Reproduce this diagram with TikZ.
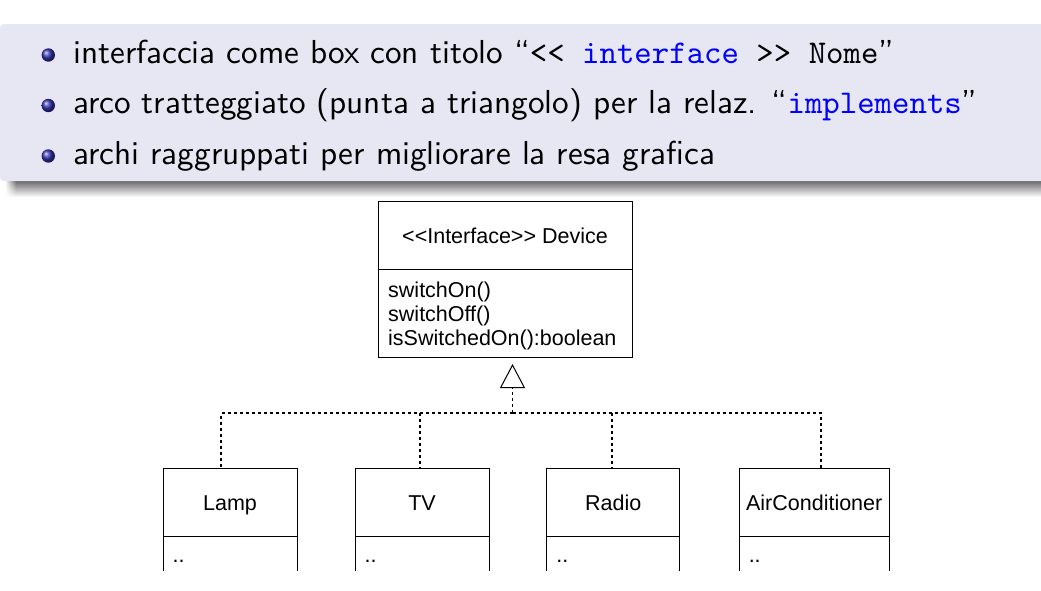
\documentclass[tikz,border=0pt]{standalone}
\usepackage{fontspec}
\usetikzlibrary{arrows.meta,calc,fadings}
\newfontfamily\arialf{Liberation Sans}
\newfontfamily\lmssf{lmsans10-regular.otf}
\newfontfamily\lmttf{lmmono10-regular.otf}
\definecolor{blockbg}{RGB}{230,231,243}
\definecolor{ballc}{rgb}{0.2,0.2,0.7}
\tikzfading[name=shadowleft, left color=transparent!100, right color=transparent!0]
\begin{document}
\begin{tikzpicture}[x=1pt,y=-1pt,
  bullettext/.style={anchor=base west,inner sep=0pt,font=\lmssf\fontsize{33.2}{36}\selectfont},
  umlbox/.style={draw,line width=1pt,inner sep=0pt,outer sep=0pt},
  umlfont/.style={inner sep=0pt,font=\arialf\fontsize{21.5}{24}\selectfont},
  umltext/.style={umlfont,anchor=base west},
  umllabel/.style={umlfont,anchor=base},
  dep/.style={line width=1.15pt,dash pattern=on 3pt off 3pt},
  ballbullet/.style={ball color=ballc}
]
\useasboundingbox (0,0) rectangle (1041,590);
\fill[white] (0,0) rectangle (1041,590);
% shadow
\shade[top color=black!58,bottom color=white] (16,181) rectangle (1060,197);
\shade[top color=black!58,bottom color=white,path fading=shadowleft,fit fading=true] (5,181) rectangle (16,197);
% block
\fill[blockbg,rounded corners=4pt] (0,24) rectangle (1060,181);
% bullets
\shade[ballbullet] (48.3,55) circle[radius=6.7];
\shade[ballbullet] (48.3,105.5) circle[radius=6.7];
\shade[ballbullet] (48.3,156) circle[radius=6.7];
\node[bullettext] (l1) at (73,63) {interfaccia come box con titolo “{\lmttf<< {\color{blue}interface} >> Nome}”};
\node[bullettext] (l2) at (73,113.5) {arco tratteggiato (punta a triangolo) per la relaz. “{\lmttf\color{blue}implements}”};
\node[bullettext] (l3) at (73,164) {archi raggruppati per migliorare la resa grafica};
% interface
\node[umlbox,minimum width=254pt,minimum height=68pt] (dev) at (505,235) {};
\node[umllabel] (devname) at (505,243.3) {<{}<Interface>{}> Device};
\node[umlbox,minimum width=254pt,minimum height=88pt,anchor=north] (devm) at (dev.south) {};
\node[umltext] (m1) at (388,297.7) {switchOn()};
\node[umltext] (m2) at (388,321.7) {switchOff()};
\node[umltext] (m3) at (388,345.7) {isSwitchedOn():boolean};
% classes
\begin{scope}
\clip (0,0) rectangle (1041,570.5);
\foreach \n/\cx/\w/\t in {lamp/230/134/Lamp,tv/422/134/TV,radio/613.3/133.3/Radio,ac/814.2/150.3/AirConditioner}{
  \node[umlbox,minimum width=\w pt,minimum height=68pt] (\n) at (\cx,502) {};
  \node[umllabel] (\n name) at (\cx,510) {\t};
  \draw[line width=1pt] (\n.south west) -- ++(0,45) (\n.south east) -- ++(0,45);
  \node[umltext] (\n dots) at ($(\n.south west)+(9.5,26)$) {..};
}
\end{scope}
% connectors
\coordinate (apex) at (512.5,364);
\coordinate (hub) at (512.5,413);
\coordinate (lampT) at (221,468);
\coordinate (tvT) at (420,468);
\coordinate (radioT) at (612,468);
\coordinate (acT) at (821,468);
\draw[dep,-{Triangle[open,length=24pt,width=25pt,line width=1pt]}] (hub) -- (apex);
\draw[dep] (hub) -| (lampT);
\draw[dep] (hub) -| (acT);
\draw[dep] (tvT |- hub) -- (tvT);
\draw[dep] (radioT |- hub) -- (radioT);
\end{tikzpicture}
\end{document}
